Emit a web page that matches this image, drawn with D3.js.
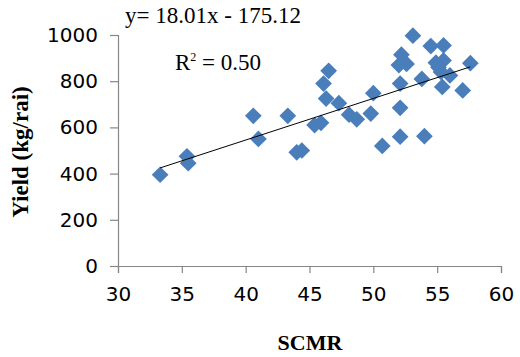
<!DOCTYPE html>
<html>
<head>
<meta charset="utf-8">
<script src="https://cdn.jsdelivr.net/npm/d3@7"></script>
<style>
  body { margin: 0; background: #fff; }
  .tick text { font-family: "DejaVu Sans", sans-serif; font-size: 20px; fill: #000; }
  .serif { font-family: "Liberation Serif", "Times New Roman", serif; }
</style>
</head>
<body>
<div id="chart"></div>
<script>
// SCMR readings and yield (kg/rai)
const scmr = [33.3, 35.4, 35.5, 40.6, 41.0, 43.3, 44.0, 44.4, 45.4, 45.9,
  46.1, 46.5, 46.3, 47.3, 48.1, 48.7, 49.8, 50.0, 50.7, 52.1,
  52.1, 52.1, 52.2, 52.0, 52.6, 53.1, 53.8, 54.0, 54.5, 55.5,
  54.9, 55.5, 55.1, 55.4, 56.0, 57.0, 57.6, 55.3];
const yieldKg = [395, 475, 445, 650, 550, 650, 492, 500, 610, 620,
  790, 845, 725, 705, 655, 635, 660, 748, 520, 560,
  685, 790, 915, 870, 875, 997, 810, 562, 952, 955,
  880, 890, 860, 775, 825, 760, 878, 840];

const xTicks = [30, 35, 40, 45, 50, 55, 60];
const yTicks = [0, 200, 400, 600, 800, 1000];

const slope = 18.01, intercept = -175.12;
const eqLabel = 'y= 18.01x - 175.12';

const width = 520, height = 357;
const margin = { top: 35, right: 19, bottom: 91, left: 118 };

const svg = d3.select('#chart')
  .append('svg')
  .attr('width', width)
  .attr('height', height);

const xScale = d3.scaleLinear()
  .domain([30, 60])
  .range([margin.left, width - margin.right]);

const yScale = d3.scaleLinear()
  .domain([0, 1000])
  .range([height - margin.bottom, margin.top]);

// axes
const xAxis = svg.append('g')
  .attr('transform', `translate(0,${height - margin.bottom})`)
  .call(d3.axisBottom(xScale).tickValues(xTicks).tickFormat(d3.format('d')).tickSize(7).tickPadding(14));

const yAxis = svg.append('g')
  .attr('transform', `translate(${margin.left},0)`)
  .call(d3.axisLeft(yScale).tickValues(yTicks).tickFormat(d3.format('d')).tickSize(8).tickPadding(12));

[xAxis, yAxis].forEach(g => {
  g.select('.domain').attr('stroke', '#868686').attr('stroke-width', 1.2);
  g.selectAll('.tick line').attr('stroke', '#868686').attr('stroke-width', 1.2);
  g.attr('font-family', null).attr('font-size', null);
});

// points
const points = scmr.map((d, i) => ({ x: d, y: yieldKg[i] }));
const diamond = d3.symbol().type(d3.symbolSquare).size(140);

svg.append('g')
  .selectAll('path')
  .data(points)
  .join('path')
  .attr('transform', d => `translate(${xScale(d.x)},${yScale(d.y)}) rotate(45)`)
  .attr('d', diamond)
  .attr('fill', '#4a7ebb');

// trend line
const xMin = d3.min(scmr), xMax = d3.max(scmr);
const trend = d3.line()
  .x(d => xScale(d))
  .y(d => yScale(slope * d + intercept));

svg.append('path')
  .attr('d', trend([xMin, xMax]))
  .attr('fill', 'none')
  .attr('stroke', '#000')
  .attr('stroke-width', 1);

// equation text
svg.append('text')
  .attr('class', 'serif')
  .attr('x', 125)
  .attr('y', 23)
  .attr('font-size', 23)
  .text(eqLabel);

const r2 = svg.append('text')
  .attr('class', 'serif')
  .attr('x', 175)
  .attr('y', 70)
  .attr('font-size', 23);
r2.append('tspan').text('R');
r2.append('tspan').attr('font-size', 12).attr('dy', -9).text('2');
r2.append('tspan').attr('dy', 9).text(' = 0.50');

// axis titles
svg.append('text')
  .attr('class', 'serif')
  .attr('transform', `translate(28,152) rotate(-90)`)
  .attr('text-anchor', 'middle')
  .attr('font-weight', 'bold')
  .attr('font-size', 23)
  .text('Yield (kg/rai)');

svg.append('text')
  .attr('class', 'serif')
  .attr('x', 310)
  .attr('y', 350)
  .attr('text-anchor', 'middle')
  .attr('font-weight', 'bold')
  .attr('font-size', 22)
  .text('SCMR');
</script>
</body>
</html>
